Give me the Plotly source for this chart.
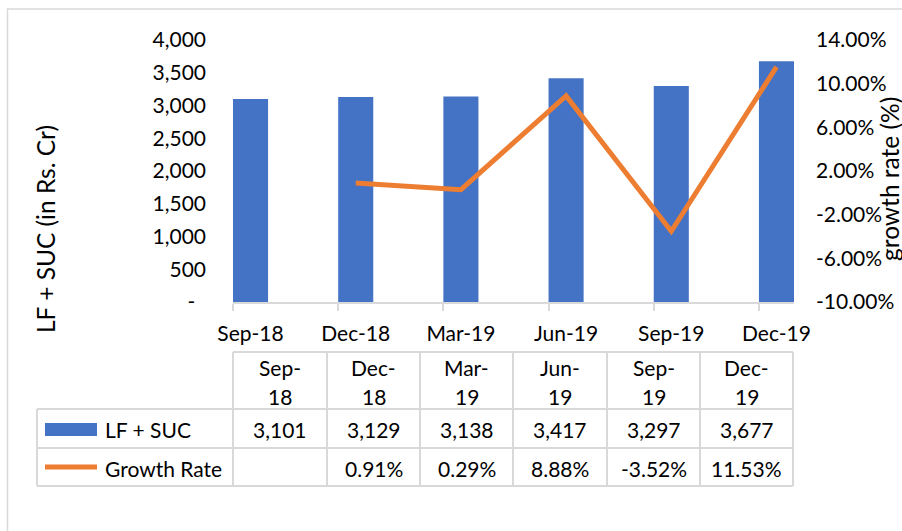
import plotly.graph_objects as go

# ---------------- data ----------------
categories = ["Sep-18", "Dec-18", "Mar-19", "Jun-19", "Sep-19", "Dec-19"]
lf_suc = [3101, 3129, 3138, 3417, 3297, 3677]
growth_pct = [None, 0.91, 0.29, 8.88, -3.52, 11.53]
left_ticks = [0, 500, 1000, 1500, 2000, 2500, 3000, 3500, 4000]
left_tick_labels = ["-\u00a0\u00a0", "500", "1,000", "1,500", "2,000", "2,500", "3,000", "3,500", "4,000"]
right_ticks = [-10, -6, -2, 2, 6, 10, 14]
right_tick_labels = ["%.2f%%" % v for v in right_ticks]
series_names = ["LF + SUC", "Growth Rate"]
left_title = "LF + SUC (in Rs. Cr)"
right_title = "growth rate (%)"

# ---------------- geometry helpers ----------------
W, H = 902, 531
FONT = "Lato"
FS = 21
TFS = 24.5
GRID = "#D9D9D9"
BLUE = "#4472C4"
ORANGE = "#ED7D31"


def px(x):
    return x / W


def py(y):
    return 1 - y / H


PL, PR, PT, PB = 233, 794, 40, 302
idx = list(range(len(categories)))
half = 0.1667

fig = go.Figure()
fig.add_bar(x=idx, y=lf_suc, width=2 * half, marker=dict(color=BLUE, line=dict(width=0)),
            name=series_names[0], yaxis="y")
fig.add_scatter(x=idx, y=growth_pct, mode="lines", line=dict(color=ORANGE, width=5),
                name=series_names[1], yaxis="y2", connectgaps=False)

shapes = []
ann = []

# outer chart border
shapes.append(dict(type="rect", xref="paper", yref="paper", x0=px(7.5), x1=px(910), y0=py(540), y1=py(9),
                   line=dict(color=GRID, width=1.5), fillcolor="rgba(0,0,0,0)", layer="below"))

# ---------------- data table ----------------
col_edges = [233, 327, 420, 513, 607, 700, 793]
T_TOP, R1, R2, R3 = 352, 409, 448, 486
T_LEFT = 37
line_style = dict(color=GRID, width=2)
shapes.append(dict(type="line", xref="paper", yref="paper", x0=px(col_edges[0]), x1=px(col_edges[-1]),
                   y0=py(T_TOP), y1=py(T_TOP), line=line_style))
for yy in (R1, R2, R3):
    shapes.append(dict(type="line", xref="paper", yref="paper", x0=px(T_LEFT), x1=px(col_edges[-1]),
                       y0=py(yy), y1=py(yy), line=line_style))
shapes.append(dict(type="line", xref="paper", yref="paper", x0=px(T_LEFT), x1=px(T_LEFT),
                   y0=py(R1), y1=py(R3), line=line_style))
for xx in col_edges:
    shapes.append(dict(type="line", xref="paper", yref="paper", x0=px(xx), x1=px(xx),
                       y0=py(T_TOP), y1=py(R3), line=line_style))


def text(x, y, s, xanchor="center", angle=0, size=FS):
    ann.append(dict(x=px(x), y=py(y), xref="paper", yref="paper", text=s, showarrow=False,
                    xanchor=xanchor, yanchor="middle", textangle=angle,
                    font=dict(family=FONT, size=size, color="#000000")))


for i, cat in enumerate(categories):
    cx = (col_edges[i] + col_edges[i + 1]) / 2
    mon, yr = cat.split("-")
    text(cx, 367, mon + "-")
    text(cx, 396, yr)
    text(cx, 429, "{:,}".format(lf_suc[i]))
    if growth_pct[i] is not None:
        text(cx, 468, "%.2f%%" % growth_pct[i])

# legend keys inside table
shapes.append(dict(type="rect", xref="paper", yref="paper", x0=px(45), x1=px(97), y0=py(436), y1=py(423),
                   fillcolor=BLUE, line=dict(width=0)))
shapes.append(dict(type="line", xref="paper", yref="paper", x0=px(45), x1=px(97), y0=py(467), y1=py(467),
                   line=dict(color=ORANGE, width=5)))
text(103, 429, series_names[0], xanchor="left")
text(103, 468, series_names[1], xanchor="left")

# axis titles
text(45, 229, left_title, angle=-90, size=TFS)
text(890, 179, right_title, angle=-90, size=TFS)

fig.update_layout(
    width=W, height=H, template="none",
    margin=dict(l=0, r=0, t=0, b=0),
    paper_bgcolor="white", plot_bgcolor="white",
    showlegend=False,
    font=dict(family=FONT, size=FS, color="#000000"),
    shapes=shapes, annotations=ann,
    xaxis=dict(domain=[px(PL), px(PR)], range=[-half, len(categories) - 1 + half],
               tickmode="array", tickvals=idx, ticktext=categories, ticks="",
               ticklabelstandoff=12,
               showline=True, linecolor=GRID, linewidth=1.5, showgrid=False, zeroline=False,
               minor=dict(tickmode="array", tickvals=[i - half for i in idx], ticks="outside",
                          ticklen=7, tickcolor=GRID, tickwidth=1.5),
               automargin=False),
    yaxis=dict(domain=[py(PB), py(PT)], range=[0, 4000], tickmode="array", tickvals=left_ticks,
               ticktext=left_tick_labels, ticks="", showgrid=False, zeroline=False, showline=False,
               ticklabelstandoff=26, automargin=False),
    yaxis2=dict(overlaying="y", side="right", range=[-10, 14], tickmode="array", tickvals=right_ticks,
                ticktext=right_tick_labels, ticks="", showgrid=False, zeroline=False, showline=False,
                ticklabelstandoff=21, automargin=False),
)

fig.write_html("out.html", config={"displayModeBar": False},
               post_script="document.body.style.margin='0';document.body.style.overflow='hidden';")
